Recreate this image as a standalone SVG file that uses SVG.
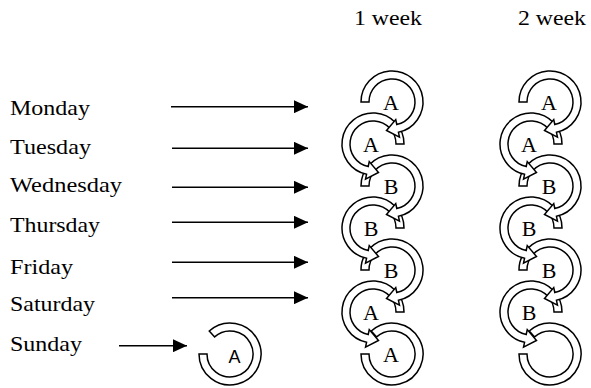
<svg xmlns="http://www.w3.org/2000/svg" xmlns:xlink="http://www.w3.org/1999/xlink" width="591" height="388" viewBox="0 0 591 388">
<style>
.s{fill:#fff;stroke:#000;stroke-width:1.5;stroke-linejoin:miter}
.t{font-family:"Liberation Serif","Times New Roman",serif;font-size:22px;fill:#000}
.l{font-family:"Liberation Serif","Times New Roman",serif;font-size:22px;fill:#000;text-anchor:middle}
.ln{stroke:#000;stroke-width:1.5;fill:none;marker-end:url(#ah)}
</style>
<defs>
<marker id="ah" markerWidth="14" markerHeight="13" refX="14" refY="6.5" orient="auto" markerUnits="userSpaceOnUse"><path d="M0,0 L14,6.5 L0,13 Z" fill="#000"/></marker>
<path id="cr" class="s" d="M -31 0 A 31 31 0 1 1 6.45 30.32 L 7.48 35.21 L -5.5 28.5 L 3.74 17.61 L 4.78 22.5 A 23 23 0 1 0 -23 0 Z"/>
<path id="ct" class="s" d="M -20.74 -23.04 A 31 31 0 1 1 -31 0 L -23 0 A 23 23 0 1 0 -15.39 -17.09 Z"/>
</defs>
<g id="headers">
<text class="t" x="422" y="25" text-anchor="end" textLength="68" lengthAdjust="spacingAndGlyphs">1 week</text>
<text class="t" x="586" y="25" text-anchor="end" textLength="68" lengthAdjust="spacingAndGlyphs">2 week</text>
</g>
<g id="days">
<text id="monday" class="t" x="10" y="115" textLength="80" lengthAdjust="spacingAndGlyphs">Monday</text>
<text id="tuesday" class="t" x="10" y="154" textLength="81" lengthAdjust="spacingAndGlyphs">Tuesday</text>
<text id="wednesday" class="t" x="10" y="192" textLength="112" lengthAdjust="spacingAndGlyphs">Wednesday</text>
<text id="thursday" class="t" x="10" y="232" textLength="90" lengthAdjust="spacingAndGlyphs">Thursday</text>
<text id="friday" class="t" x="10" y="274" textLength="63" lengthAdjust="spacingAndGlyphs">Friday</text>
<text id="saturday" class="t" x="10" y="311" textLength="85" lengthAdjust="spacingAndGlyphs">Saturday</text>
<text id="sunday" class="t" x="10" y="351" textLength="72" lengthAdjust="spacingAndGlyphs">Sunday</text>
</g>
<g id="connectors">
<line class="ln" x1="171" y1="106.7" x2="308" y2="106.7"/>
<line class="ln" x1="172" y1="148.3" x2="308" y2="148.3"/>
<line class="ln" x1="172" y1="187.3" x2="308" y2="187.3"/>
<line class="ln" x1="172" y1="222.3" x2="308" y2="222.3"/>
<line class="ln" x1="172" y1="262.3" x2="308" y2="262.3"/>
<line class="ln" x1="172" y1="297.7" x2="308" y2="297.7"/>
<line class="ln" x1="119" y1="345.7" x2="187" y2="345.7"/>
</g>
<g id="sunday-node">
<use xlink:href="#ct" transform="translate(230,354)"/>
<text x="234.5" y="363" text-anchor="middle" font-family="'Liberation Sans',Arial,sans-serif" font-size="18">A</text>
</g>
<g id="week1">
<g id="w1-7"><use xlink:href="#ct" transform="translate(392,354)"/><text class="l" x="391" y="362">A</text></g>
<g id="w1-6"><use xlink:href="#cr" transform="translate(373,312) scale(-1,1)"/><text class="l" x="371" y="320">A</text></g>
<g id="w1-5"><use xlink:href="#cr" transform="translate(392,270)"/><text class="l" x="391" y="278">B</text></g>
<g id="w1-4"><use xlink:href="#cr" transform="translate(373,228) scale(-1,1)"/><text class="l" x="371" y="236">B</text></g>
<g id="w1-3"><use xlink:href="#cr" transform="translate(392,186)"/><text class="l" x="391" y="194">B</text></g>
<g id="w1-2"><use xlink:href="#cr" transform="translate(373,144) scale(-1,1)"/><text class="l" x="371" y="152">A</text></g>
<g id="w1-1"><use xlink:href="#cr" transform="translate(392,102)"/><text class="l" x="391" y="110">A</text></g>
</g>
<g id="week2">
<g id="w2-7"><use xlink:href="#ct" transform="translate(550,354)"/></g>
<g id="w2-6"><use xlink:href="#cr" transform="translate(531,312) scale(-1,1)"/><text class="l" x="529" y="320">B</text></g>
<g id="w2-5"><use xlink:href="#cr" transform="translate(550,270)"/><text class="l" x="549" y="278">B</text></g>
<g id="w2-4"><use xlink:href="#cr" transform="translate(531,228) scale(-1,1)"/><text class="l" x="529" y="236">B</text></g>
<g id="w2-3"><use xlink:href="#cr" transform="translate(550,186)"/><text class="l" x="549" y="194">B</text></g>
<g id="w2-2"><use xlink:href="#cr" transform="translate(531,144) scale(-1,1)"/><text class="l" x="529" y="152">A</text></g>
<g id="w2-1"><use xlink:href="#cr" transform="translate(550,102)"/><text class="l" x="549" y="110">A</text></g>
</g>
</svg>
